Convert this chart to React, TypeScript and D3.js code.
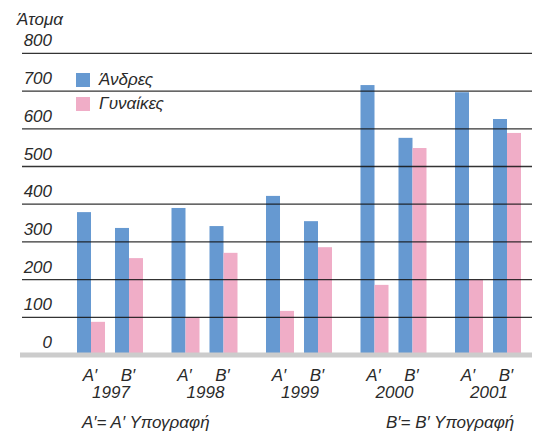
import * as d3 from "d3";

const years = ["1997", "1998", "1999", "2000", "2001"];
const signatures = ["A", "B"];
const men = [
  [379, 337],
  [390, 342],
  [422, 355],
  [716, 576],
  [697, 626],
];
const women = [
  [88, 257],
  [100, 271],
  [117, 286],
  [186, 549],
  [200, 589],
];
const yTicks = [0, 100, 200, 300, 400, 500, 600, 700, 800];
const sigLabels: Record<string, string> = { A: "Α′", B: "Β′" };

const BLUE = "#6699d1";
const PINK = "#f0adc7";
const INK = "#2a2a2a";
const FONT = "'Liberation Sans', Arial, sans-serif";
const FS = 17;

export default function App() {
  const width = 534;
  const height = 434;

  const y = d3.scaleLinear().domain([0, 800]).range([355, 53.4]);
  const xYear = d3.scaleBand<string>().domain(years).range([77, 521]).paddingInner(0.3016).paddingOuter(0);
  const xSig = d3.scaleBand<string>().domain(signatures).range([0, xYear.bandwidth()]).paddingInner(0.263).paddingOuter(0);
  const xSeries = d3.scaleBand<string>().domain(["men", "women"]).range([0, xSig.bandwidth()]);

  const bars: { x: number; v: number; color: string }[] = [];
  years.forEach((yr, i) => {
    signatures.forEach((s, j) => {
      const x0 = (xYear(yr) ?? 0) + (xSig(s) ?? 0);
      bars.push({ x: x0 + (xSeries("men") ?? 0), v: men[i][j], color: BLUE });
      bars.push({ x: x0 + (xSeries("women") ?? 0), v: women[i][j], color: PINK });
    });
  });

  return (
    <svg
      width={width}
      height={height}
      style={{ position: "absolute", left: 0, top: 0, background: "#fff" }}
      fontFamily={FONT}
      fontStyle="italic"
    >
      <text x={17} y={25} fontSize={FS} fill={INK}>
        Άτομα
      </text>

      {bars.map((b, i) => (
        <rect key={i} x={b.x} y={y(b.v)} width={xSeries.bandwidth()} height={y(0) - y(b.v)} fill={b.color} />
      ))}

      <rect x={20} y={y(0) - 2.5} width={512} height={5} fill="#cccccc" />

      {yTicks.map((t) => (
        <g key={t}>
          {t > 0 && (
            <line x1={22} x2={532} y1={y(t)} y2={y(t)} stroke="#111" strokeOpacity={0.85} strokeWidth={1.3} />
          )}
          <text x={52} y={y(t) - 7} fontSize={FS} textAnchor="end" fill={INK}>
            {t}
          </text>
        </g>
      ))}

      <rect x={76} y={73} width={14} height={14} fill={BLUE} />
      <rect x={76} y={97} width={14} height={14} fill={PINK} />
      <text x={99} y={85} fontSize={FS} fill={INK}>
        Άνδρες
      </text>
      <text x={99} y={109} fontSize={FS} fill={INK}>
        Γυναίκες
      </text>

      {years.map((yr) => (
        <g key={yr}>
          {signatures.map((s) => (
            <text
              key={s}
              x={(xYear(yr) ?? 0) + (xSig(s) ?? 0) + xSig.bandwidth() / 2 - 1}
              y={381}
              fontSize={FS}
              textAnchor="middle"
              fill={INK}
            >
              {sigLabels[s]}
            </text>
          ))}
          <text x={(xYear(yr) ?? 0) + xYear.bandwidth() / 2 + 1} y={398} fontSize={FS} textAnchor="middle" fill={INK}>
            {yr}
          </text>
        </g>
      ))}

      <text x={82} y={428} fontSize={FS} fill={INK}>
        Α′= Α′ Υπογραφή
      </text>
      <text x={386} y={428} fontSize={FS} fill={INK}>
        Β′= Β′ Υπογραφή
      </text>
    </svg>
  );
}
